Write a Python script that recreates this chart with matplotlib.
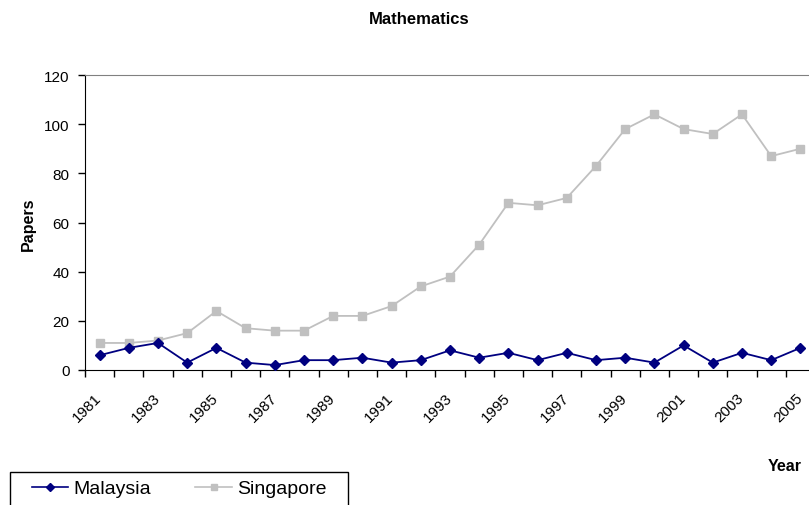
import matplotlib
matplotlib.use("Agg")
import matplotlib.pyplot as plt
from matplotlib.lines import Line2D
from matplotlib.patches import Rectangle
from matplotlib.transforms import ScaledTranslation
import numpy as np

plt.rcParams['font.family'] = ['Liberation Sans', 'DejaVu Sans']

years = list(range(1981, 2006))
malaysia = [6, 9, 11, 3, 9, 3, 2, 4, 4, 5, 3, 4, 8, 5, 7, 4, 7, 4, 5, 3, 10, 3, 7, 4, 9]
singapore = [11, 11, 12, 15, 24, 17, 16, 16, 22, 22, 26, 34, 38, 51, 68, 67, 70, 83, 98, 104,
             98, 96, 104, 87, 90]
y_ticks = [0, 20, 40, 60, 80, 100, 120]

NAVY = '#000080'
SILVER = '#C0C0C0'

W, H = 809, 506
fig = plt.figure(figsize=(W / 100, H / 100), dpi=100)
ax = fig.add_axes([85 / W, 1 - 371 / H, (815 - 85) / W, (371 - 76) / H])

x = np.arange(len(years))
ax.plot(x, singapore, color=SILVER, lw=1.3, marker='s', ms=5.5,
        markeredgecolor=SILVER, label='Singapore', zorder=2, clip_on=False)
ax.plot(x, malaysia, color=NAVY, lw=1.3, marker='D', ms=5,
        markeredgecolor=NAVY, label='Malaysia', zorder=3, clip_on=False)

ax.set_xlim(-0.5, len(years) - 0.5)
ax.set_ylim(0, 120)
ax.set_yticks(y_ticks)
ax.set_yticklabels([str(v) for v in y_ticks], fontsize=11)

# tick marks sit on the category boundaries; labels go under every other year
ax.set_xticks(np.arange(-0.5, len(years), 1.0))
ax.set_xticklabels([])
ax.tick_params(axis='x', length=5, width=1, direction='out', color='black')
ax.tick_params(axis='y', length=5, width=1, direction='out', color='black', pad=6)

label_shift = ax.transData + ScaledTranslation(-5 / 100, -20 / 100, fig.dpi_scale_trans)
for i, yr in enumerate(years):
    if i % 2 == 0:
        ax.text(i, 0, str(yr), rotation=45, ha='right', va='top',
                rotation_mode='anchor', fontsize=11, transform=label_shift,
                clip_on=False)

ax.spines['right'].set_visible(False)
ax.spines['top'].set_color('#808080')
ax.spines['left'].set_color('black')
ax.spines['bottom'].set_color('black')

fig.text(419 / W, 1 - 20 / H, 'Mathematics', ha='center', va='center',
         fontsize=12, fontweight='bold')
fig.text(28 / W, 1 - 224 / H, 'Papers', ha='center', va='center', rotation=90,
         fontsize=11.5, fontweight='bold')
fig.text(785 / W, 1 - 467 / H, 'Year', ha='center', va='center',
         fontsize=11.5, fontweight='bold')

# legend box running off the bottom edge
fig.patches.append(Rectangle((9.5 / W, -0.02), (347.5 - 9.5) / W, 0.02 + 1 - 472.5 / H,
                             transform=fig.transFigure, facecolor='white',
                             edgecolor='black', lw=1, zorder=1))
handles = [Line2D([], [], color=NAVY, lw=1.2, marker='D', ms=4),
           Line2D([], [], color=SILVER, lw=1.2, marker='s', ms=4.5)]
leg = fig.legend(handles, ['Malaysia', 'Singapore'], loc='center left',
                 bbox_to_anchor=(31.5 / W, 1 - 489.5 / H), ncol=2, fontsize=14,
                 frameon=False, handlelength=1.9, handletextpad=0.23,
                 columnspacing=2.3, borderpad=0, borderaxespad=0)
leg.set_zorder(2)

fig.savefig('out.png', dpi=100)
